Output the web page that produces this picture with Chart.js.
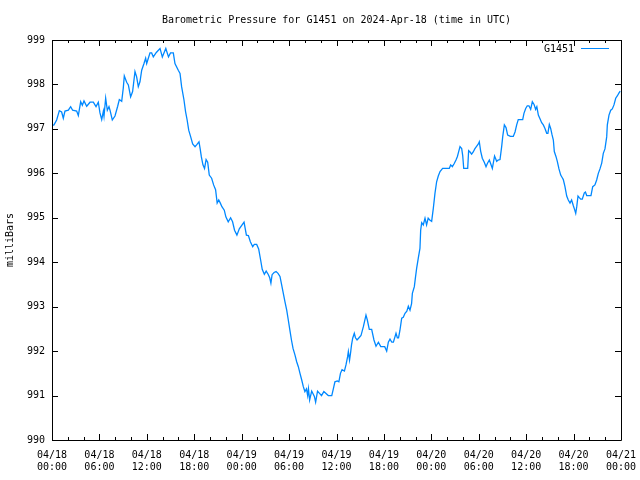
<!DOCTYPE html>
<html>
<head>
<meta charset="utf-8">
<script src="https://cdn.jsdelivr.net/npm/chart.js@4"></script>
<style>
  html, body { margin: 0; padding: 0; background: #fff; }
</style>
</head>
<body>
<canvas id="myChart" width="640" height="480"></canvas>
<script>
// hours since 2024-04-18 00:00 UTC
const hours = [
  0.0, 0.25, 0.59, 0.93, 1.22, 1.43, 1.64, 2.07, 2.36, 2.61, 3.12, 3.33, 3.63, 3.84, 4.05, 4.39, 4.81, 5.23, 5.57, 5.86,
  6.07, 6.29, 6.5, 6.58, 6.79, 7.0, 7.21, 7.34, 7.63, 7.97, 8.31, 8.52, 8.82, 9.02, 9.15, 9.45, 9.66, 9.95, 10.2, 10.5,
  10.71, 10.92, 11.13, 11.35, 11.64, 11.85, 11.98, 12.19, 12.4, 12.61, 12.82, 13.2, 13.67, 13.96, 14.4, 14.74, 15.0, 15.35, 15.56, 15.98,
  16.2, 16.4, 16.7, 16.9, 17.1, 17.3, 17.55, 17.8, 18.1, 18.35, 18.6, 18.75, 18.9, 19.1, 19.3, 19.5, 19.7, 19.9, 20.2, 20.45,
  20.7, 20.9, 21.1, 21.3, 21.5, 21.8, 22.0, 22.3, 22.6, 22.85, 23.1, 23.4, 23.7, 24.3, 24.6, 24.85, 25.1, 25.4, 25.6, 25.9,
  26.15, 26.4, 26.6, 26.87, 27.1, 27.35, 27.55, 27.7, 27.85, 28.1, 28.35, 28.6, 28.85, 29.06, 29.27, 29.48, 29.7, 29.9, 30.1, 30.3,
  30.5, 30.75, 30.96, 31.17, 31.38, 31.6, 31.8, 32.0, 32.2, 32.35, 32.45, 32.6, 32.86, 33.0, 33.2, 33.36, 33.6, 33.85, 34.1, 34.4,
  34.96, 35.4, 35.6, 35.8, 36.1, 36.3, 36.5, 36.7, 37.0, 37.2, 37.4, 37.5, 37.65, 37.8, 37.9, 38.05, 38.25, 38.4, 38.6, 38.85,
  39.1, 39.4, 39.73, 39.9, 40.15, 40.45, 40.74, 41.0, 41.3, 41.6, 42.1, 42.35, 42.56, 42.77, 43.0, 43.2, 43.53, 43.7, 43.85, 44.03,
  44.25, 44.45, 44.67, 44.9, 45.09, 45.3, 45.5, 45.6, 45.85, 46.0, 46.14, 46.35, 46.56, 46.65, 46.78, 46.98, 47.2, 47.4, 47.6, 47.8,
  48.04, 48.25, 48.46, 48.67, 48.88, 49.1, 49.43, 49.9, 50.27, 50.45, 50.66, 50.9, 51.12, 51.3, 51.46, 51.63, 51.84, 51.97, 52.1, 52.6,
  52.72, 52.9, 53.1, 53.3, 53.5, 53.7, 53.95, 54.07, 54.24, 54.45, 54.7, 54.92, 55.09, 55.34, 55.5, 55.72, 55.85, 56.0, 56.27, 56.45,
  56.69, 56.9, 57.03, 57.24, 57.45, 57.66, 58.0, 58.37, 58.59, 58.8, 59.0, 59.3, 59.56, 59.72, 59.94, 60.14, 60.35, 60.57, 60.78, 61.0,
  61.2, 61.35, 61.54, 61.75, 61.96, 62.17, 62.38, 62.6, 62.75, 62.93, 63.1, 63.27, 63.44, 63.56, 63.77, 63.94, 64.15, 64.37, 64.57, 64.7,
  64.91, 65.13, 65.33, 65.55, 65.75, 65.97, 66.1, 66.27, 66.4, 66.56, 66.7, 66.9, 67.1, 67.36, 67.5, 67.66, 68.2, 68.42, 68.7, 68.92,
  69.13, 69.34, 69.56, 69.76, 69.97, 70.19, 70.27, 70.48, 70.7, 70.9, 71.11, 71.33, 71.53, 71.75, 71.9
];
const pressure = [
  997.08, 997.09, 997.2, 997.41, 997.38, 997.24, 997.4, 997.42, 997.5, 997.42, 997.4, 997.3, 997.61, 997.53, 997.63, 997.51, 997.6, 997.6, 997.5, 997.6,
  997.36, 997.21, 997.4, 997.29, 997.69, 997.42, 997.5, 997.42, 997.2, 997.29, 997.51, 997.66, 997.62, 997.92, 998.19, 998.05, 997.99, 997.72, 997.84, 998.29,
  998.17, 997.95, 998.06, 998.32, 998.47, 998.59, 998.47, 998.59, 998.71, 998.71, 998.62, 998.72, 998.81, 998.62, 998.81, 998.62, 998.71, 998.71, 998.47, 998.32,
  998.25, 997.95, 997.65, 997.39, 997.2, 996.97, 996.82, 996.66, 996.6, 996.65, 996.71, 996.55, 996.37, 996.19, 996.11, 996.31, 996.25, 995.96, 995.89, 995.74,
  995.63, 995.33, 995.4, 995.33, 995.25, 995.17, 995.02, 994.91, 995.0, 994.91, 994.72, 994.61, 994.75, 994.9, 994.61, 994.6, 994.46, 994.35, 994.4, 994.4,
  994.3, 994.05, 993.84, 993.73, 993.8, 993.73, 993.65, 993.53, 993.72, 993.77, 993.79, 993.75, 993.68, 993.49, 993.3, 993.11, 992.92, 992.7, 992.47, 992.25,
  992.06, 991.91, 991.76, 991.65, 991.5, 991.35, 991.2, 991.09, 991.15, 991.0, 991.15, 990.9, 991.1, 991.05, 990.98, 990.85, 991.1, 991.05, 991.0, 991.09,
  991.0, 991.0, 991.15, 991.31, 991.33, 991.31, 991.5, 991.58, 991.55, 991.69, 991.87, 991.99, 991.8, 991.99, 992.14, 992.29, 992.4, 992.3, 992.25, 992.3,
  992.35, 992.55, 992.81, 992.7, 992.49, 992.49, 992.25, 992.11, 992.2, 992.1, 992.1, 992.0, 992.2, 992.27, 992.2, 992.2, 992.4, 992.3, 992.3, 992.47,
  992.74, 992.76, 992.85, 992.9, 993.01, 992.92, 993.07, 993.3, 993.45, 993.67, 993.86, 994.09, 994.31, 994.72, 994.89, 994.84, 994.99, 994.84, 994.99, 994.95,
  994.92, 995.21, 995.55, 995.81, 995.94, 996.04, 996.11, 996.11, 996.11, 996.19, 996.15, 996.22, 996.3, 996.38, 996.49, 996.6, 996.56, 996.4, 996.11, 996.11,
  996.51, 996.48, 996.43, 996.48, 996.55, 996.6, 996.66, 996.71, 996.5, 996.34, 996.25, 996.15, 996.22, 996.3, 996.22, 996.11, 996.24, 996.39, 996.27, 996.3,
  996.31, 996.6, 996.82, 997.09, 997.03, 996.86, 996.83, 996.83, 996.93, 997.09, 997.21, 997.21, 997.21, 997.35, 997.46, 997.52, 997.52, 997.44, 997.61, 997.55,
  997.44, 997.5, 997.31, 997.23, 997.14, 997.09, 997.01, 996.9, 996.9, 997.1, 997.01, 996.87, 996.75, 996.49, 996.38, 996.27, 996.1, 995.96, 995.9, 995.86,
  995.7, 995.49, 995.4, 995.33, 995.4, 995.27, 995.2, 995.1, 995.25, 995.49, 995.46, 995.42, 995.42, 995.56, 995.58, 995.5, 995.5, 995.7, 995.74, 995.85,
  996.0, 996.1, 996.23, 996.45, 996.55, 996.82, 997.09, 997.31, 997.42, 997.45, 997.54, 997.69, 997.74, 997.81, 997.85
];

const tickHours = [0, 6, 12, 18, 24, 30, 36, 42, 48, 54, 60, 66, 72];
const tickDates = ["04/18", "04/18", "04/18", "04/18", "04/19", "04/19", "04/19", "04/19", "04/20", "04/20", "04/20", "04/20", "04/21"];
const tickTimes = ["00:00", "06:00", "12:00", "18:00", "00:00", "06:00", "12:00", "18:00", "00:00", "06:00", "12:00", "18:00", "00:00"];
const yTicks = [990, 991, 992, 993, 994, 995, 996, 997, 998, 999];

const mono = "'DejaVu Sans Mono', 'Liberation Mono', monospace";
const lineColor = "rgb(0, 136, 255)";

// gnuplot style frame: box with inward ticks + legend
const framePlugin = {
  id: "frame",
  afterDatasetsDraw(chart) {
    const { ctx, chartArea: a, scales } = chart;
    const x = scales.x, y = scales.y;
    ctx.save();
    ctx.strokeStyle = "#000";
    ctx.lineWidth = 1;
    ctx.beginPath();
    ctx.rect(Math.round(a.left) + 0.5, Math.round(a.top) + 0.5, Math.round(a.right - a.left), Math.round(a.bottom - a.top));
    for (let h = 0; h <= 72; h += 2) {
      const px = Math.round(x.getPixelForValue(h)) + 0.5;
      const len = h % 6 === 0 ? 6 : 3;
      ctx.moveTo(px, a.bottom);
      ctx.lineTo(px, a.bottom - len);
      ctx.moveTo(px, a.top);
      ctx.lineTo(px, a.top + len);
    }
    yTicks.forEach(v => {
      const py = Math.round(y.getPixelForValue(v)) + 0.5;
      ctx.moveTo(a.left, py);
      ctx.lineTo(a.left + 6, py);
      ctx.moveTo(a.right, py);
      ctx.lineTo(a.right - 6, py);
    });
    ctx.stroke();

    // legend
    ctx.font = "10px " + mono;
    ctx.fillStyle = "#000";
    ctx.textAlign = "right";
    ctx.textBaseline = "middle";
    ctx.fillText(chart.data.datasets[0].label, a.right - 47, a.top + 9);
    ctx.strokeStyle = lineColor;
    ctx.beginPath();
    ctx.moveTo(a.right - 40, a.top + 8.5);
    ctx.lineTo(a.right - 12, a.top + 8.5);
    ctx.stroke();
    ctx.restore();
  }
};

const ctx = document.getElementById("myChart");
let myChart = new Chart(ctx, {
  type: "line",
  data: {
    datasets: [
      {
        label: "G1451",
        data: hours.map((h, i) => ({ x: h, y: pressure[i] })),
        borderColor: lineColor,
        borderWidth: 1.3,
        pointRadius: 0,
        tension: 0,
        fill: false,
      },
    ],
  },
  options: {
    responsive: false,
    animation: false,
    layout: {
      padding: { left: 0, right: 19, top: 0, bottom: 0 },
    },
    scales: {
      x: {
        type: "linear",
        min: 0,
        max: 72,
        afterFit: s => { s.height = 40; s.paddingLeft = 0; s.paddingRight = 0; },
        afterBuildTicks: s => { s.ticks = tickHours.map(v => ({ value: v })); },
        grid: { display: false, drawTicks: false, tickLength: 0 },
        border: { display: false },
        ticks: {
          autoSkip: false,
          maxRotation: 0,
          padding: 9,
          color: "#000",
          font: { family: mono, size: 10 },
          callback: v => {
            const i = tickHours.indexOf(v);
            return i < 0 ? "" : [tickDates[i], tickTimes[i]];
          },
        },
      },
      y: {
        min: 990,
        max: 999,
        afterFit: s => { s.width = 52; s.paddingTop = 0; s.paddingBottom = 0; },
        afterBuildTicks: s => { s.ticks = yTicks.map(v => ({ value: v })); },
        grid: { display: false, drawTicks: false, tickLength: 0 },
        border: { display: false },
        ticks: {
          padding: 7,
          color: "#000",
          font: { family: mono, size: 10 },
        },
        title: {
          display: true,
          text: "milliBars",
          color: "#000",
          font: { family: mono, size: 10 },
          padding: { top: 4, bottom: 0 },
        },
      },
    },
    plugins: {
      legend: { display: false },
      tooltip: { enabled: false },
      title: {
        display: true,
        fullSize: false,
        text: "Barometric Pressure for G1451 on 2024-Apr-18 (time in UTC)",
        color: "#000",
        font: { family: mono, size: 10, weight: "normal" },
        padding: { top: 14, bottom: 14 },
      },
    },
  },
  plugins: [framePlugin],
});
</script>
</body>
</html>
